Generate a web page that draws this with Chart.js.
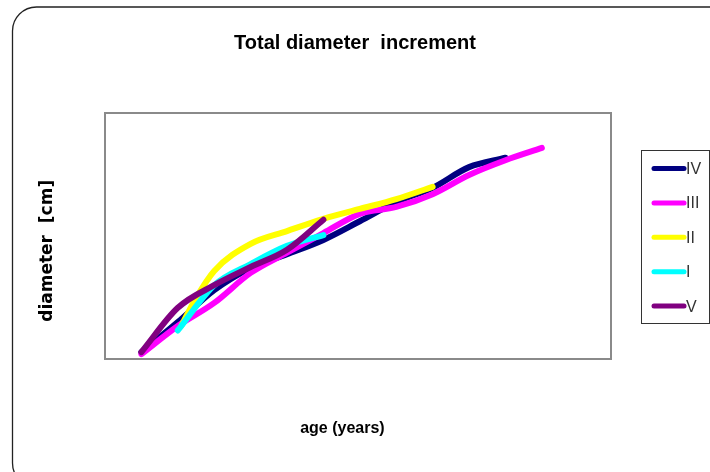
<!DOCTYPE html>
<html>
<head>
<meta charset="utf-8">
<title>Total diameter increment</title>
<script src="https://cdn.jsdelivr.net/npm/chart.js@4.4.1/dist/chart.umd.min.js"></script>
<style>
  html, body { margin: 0; padding: 0; background: #ffffff; }
  canvas { display: block; }
</style>
</head>
<body>
<canvas id="diameterChart" width="710" height="472"></canvas>
<script>
// Daten
const ageIV = [10, 20, 30, 40, 50, 60, 70, 80, 90, 100, 110];
const valuesIV = [1.4, 7.5, 14.0, 18.5, 21.3, 24.2, 28.0, 31.9, 34.8, 39.0, 40.9];

const ageIII = [10, 20, 30, 40, 50, 60, 70, 80, 90, 100, 110, 120];
const valuesIII = [1.0, 6.7, 11.4, 17.5, 21.6, 25.6, 29.5, 30.9, 33.5, 37.4, 40.4, 42.9];

const ageII = [21, 25, 30, 40, 50, 60, 70, 80, 90];
const valuesII = [6.8, 12.4, 17.9, 23.4, 26.0, 28.5, 30.5, 32.5, 35.0];

const ageI = [20, 30, 40, 50, 60];
const valuesI = [5.8, 15.0, 19.3, 23.0, 25.2];

const ageV = [10, 20, 30, 40, 50, 60];
const valuesV = [1.4, 10.4, 15.0, 18.7, 22.2, 28.3];

const seriesNames = ['IV', 'III', 'II', 'I', 'V'];
const seriesColors = ['#000080', '#ff00ff', '#ffff00', '#00ffff', '#800080'];

// Punkte aus Alter + Wert bauen
function toPoints(ages, values) {
    return ages.map((a, i) => ({ x: a, y: values[i] }));
}

const seriesData = [
    toPoints(ageIV, valuesIV),
    toPoints(ageIII, valuesIII),
    toPoints(ageII, valuesII),
    toPoints(ageI, valuesI),
    toPoints(ageV, valuesV)
];
// Zeichenreihenfolge: V oben, IV unten
const drawOrder = [4, 3, 2, 1, 0];

const datasets = seriesNames.map((name, i) => ({
    label: name,
    data: seriesData[i],
    borderColor: seriesColors[i],
    backgroundColor: seriesColors[i],
    borderWidth: 6,
    borderCapStyle: 'round',
    borderJoinStyle: 'round',
    pointRadius: 0,
    cubicInterpolationMode: 'monotone',
    fill: false,
    order: drawOrder[i]
}));

// Rahmen (aussen + Plotfläche) und Legende zeichnen
const framePlugin = {
    id: 'frames',
    beforeDraw(chart) {
        const ctx = chart.ctx;
        const a = chart.chartArea;
        ctx.save();
        // äusserer abgerundeter Rahmen
        ctx.strokeStyle = '#222222';
        ctx.lineWidth = 1.3;
        ctx.beginPath();
        ctx.roundRect(12.5, 7, 740, 480, 24);
        ctx.stroke();
        // Plotfläche
        ctx.strokeStyle = '#8a8a8a';
        ctx.lineWidth = 2;
        ctx.strokeRect(a.left, a.top, a.right - a.left, a.bottom - a.top);
        ctx.restore();
    },
    afterDraw(chart) {
        const ctx = chart.ctx;
        ctx.save();
        ctx.strokeStyle = '#333333';
        ctx.lineWidth = 1;
        ctx.strokeRect(641.5, 150.5, 68, 173);
        chart.data.datasets.forEach((ds, i) => {
            const y = 168.5 + i * 34.4;
            ctx.strokeStyle = ds.borderColor;
            ctx.lineWidth = 5;
            ctx.lineCap = 'round';
            ctx.beginPath();
            ctx.moveTo(654, y);
            ctx.lineTo(684, y);
            ctx.stroke();
            ctx.fillStyle = '#333333';
            ctx.font = '16px "Liberation Sans", Arial, sans-serif';
            ctx.textBaseline = 'middle';
            ctx.textAlign = 'left';
            ctx.fillText(ds.label, 686, y + 1);
        });
        ctx.restore();
    }
};

const config = {
    type: 'line',
    data: { datasets: datasets },
    options: {
        responsive: false,
        animation: false,
        events: [],
        layout: { padding: 0 },
        plugins: {
            legend: { display: false },
            tooltip: { enabled: false },
            title: {
                display: true,
                text: 'Total diameter  increment',
                color: '#000000',
                font: { family: '"Liberation Sans", Arial, sans-serif', size: 20, weight: 'bold', lineHeight: 1.2 },
                padding: { top: 31, bottom: 58 }
            }
        },
        scales: {
            x: {
                type: 'linear',
                min: 0,
                max: 139,
                grid: { display: false },
                border: { display: false },
                ticks: { display: false },
                title: {
                    display: true,
                    text: 'age (years)       ',
                    color: '#000000',
                    font: { family: '"Liberation Sans", Arial, sans-serif', size: 16, weight: 'bold', lineHeight: 1.2 },
                    padding: { top: 52.4, bottom: 33.4 }
                }
            },
            y: {
                type: 'linear',
                min: 0,
                max: 50,
                grid: { display: false },
                border: { display: false },
                ticks: { display: false },
                title: {
                    display: true,
                    text: 'diameter  [cm]     ',
                    color: '#000000',
                    font: { family: '"DejaVu Sans", Verdana, sans-serif', size: 17, weight: 'bold', lineHeight: 1.2 },
                    padding: { top: 37.3, bottom: 39.3 }
                }
            },
            // leere Achse rechts, schafft Platz für die Legende
            yRight: {
                type: 'linear',
                position: 'right',
                min: 0,
                max: 50,
                grid: { display: false },
                border: { display: false },
                ticks: { display: false },
                afterFit: (scale) => { scale.width = 99; }
            }
        }
    },
    plugins: [framePlugin]
};

new Chart(document.getElementById('diameterChart'), config);
</script>
</body>
</html>
